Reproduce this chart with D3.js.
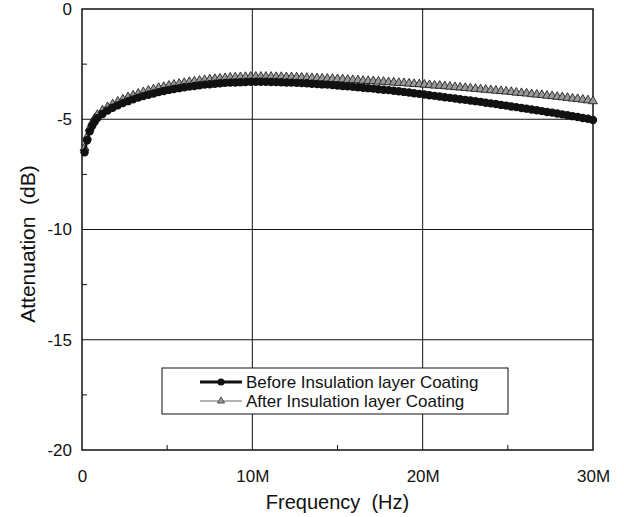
<!DOCTYPE html>
<html>
<head>
<meta charset="utf-8">
<script src="https://cdn.jsdelivr.net/npm/d3@7"></script>
<style>
  body { margin: 0; background: #fff; }
  text { font-family: "Liberation Sans", Arial, sans-serif; fill: #111; white-space: pre; }
</style>
</head>
<body>
<script>
// attributes of the canvas area
var margin = {top: 9, right: 31, bottom: 67, left: 82},
    width = 624 - margin.left - margin.right,
    height = 517 - margin.top - margin.bottom;

// frequency in MHz
let freq = [0.15, 0.3, 0.45, 0.6, 0.75, 0.9, 1.2, 1.5, 1.8, 2.1, 2.4, 2.7, 3.0, 3.3, 3.6, 3.9,
  4.2, 4.5, 4.8, 5.1, 5.4, 5.7, 6.0, 6.3, 6.6, 6.9, 7.2, 7.5, 7.8, 8.1, 8.4, 8.7, 9.0, 9.3, 9.6, 9.9,
  10.2, 10.5, 10.8, 11.1, 11.4, 11.7, 12.0, 12.3, 12.6, 12.9, 13.2, 13.5, 13.8, 14.1, 14.4, 14.7,
  15.0, 15.3, 15.6, 15.9, 16.2, 16.5, 16.8, 17.1, 17.4, 17.7, 18.0, 18.3, 18.6, 18.9, 19.2, 19.5,
  19.8, 20.1, 20.4, 20.7, 21.0, 21.3, 21.6, 21.9, 22.2, 22.5, 22.8, 23.1, 23.4, 23.7, 24.0, 24.3,
  24.6, 24.9, 25.2, 25.5, 25.8, 26.1, 26.4, 26.7, 27.0, 27.3, 27.6, 27.9, 28.2, 28.5, 28.8, 29.1,
  29.4, 29.7, 30.0];

// attenuation before coating (dB)
let before = [-6.5, -5.95, -5.55, -5.3, -5.1, -4.95, -4.76, -4.61, -4.48, -4.37, -4.27, -4.18, -4.10, -4.02, -3.95, -3.89,
  -3.83, -3.77, -3.72, -3.67, -3.63, -3.59, -3.55, -3.52, -3.49, -3.46, -3.43, -3.41, -3.39, -3.37, -3.35, -3.34, -3.33, -3.32, -3.31, -3.30,
  -3.30, -3.30, -3.30, -3.31, -3.31, -3.32, -3.33, -3.34, -3.35, -3.36, -3.37, -3.39, -3.40, -3.42, -3.43, -3.45,
  -3.47, -3.49, -3.51, -3.53, -3.55, -3.57, -3.59, -3.61, -3.64, -3.66, -3.68, -3.71, -3.73, -3.76, -3.79, -3.82,
  -3.85, -3.88, -3.91, -3.94, -3.97, -4.00, -4.03, -4.06, -4.09, -4.12, -4.15, -4.18, -4.21, -4.25, -4.28, -4.31,
  -4.35, -4.38, -4.42, -4.45, -4.49, -4.52, -4.56, -4.59, -4.63, -4.67, -4.70, -4.74, -4.78, -4.82, -4.86, -4.90,
  -4.94, -4.98, -5.03];

// attenuation after coating (dB)
let after = [-6.3, -5.8, -5.4, -5.15, -4.95, -4.8, -4.6, -4.45, -4.32, -4.2, -4.1, -4.0, -3.92, -3.84, -3.77, -3.70,
  -3.64, -3.58, -3.53, -3.48, -3.43, -3.39, -3.35, -3.31, -3.28, -3.25, -3.22, -3.19, -3.17, -3.15, -3.13, -3.11, -3.10, -3.09, -3.08, -3.07,
  -3.07, -3.07, -3.07, -3.07, -3.08, -3.08, -3.09, -3.09, -3.10, -3.11, -3.12, -3.13, -3.14, -3.15, -3.16, -3.17,
  -3.18, -3.19, -3.21, -3.22, -3.23, -3.25, -3.26, -3.27, -3.29, -3.30, -3.32, -3.33, -3.35, -3.36, -3.38, -3.40,
  -3.41, -3.43, -3.45, -3.47, -3.48, -3.50, -3.52, -3.54, -3.56, -3.58, -3.60, -3.62, -3.64, -3.66, -3.68, -3.70,
  -3.72, -3.74, -3.76, -3.79, -3.81, -3.83, -3.86, -3.88, -3.90, -3.93, -3.95, -3.98, -4.00, -4.03, -4.06, -4.08,
  -4.11, -4.14, -4.18];

let xTicks = [0, 10, 20, 30];
let xMinor = [5, 15, 25];
let yTicks = [0, -5, -10, -15, -20];
let yMinor = [-2.5, -7.5, -12.5, -17.5];
let seriesNames = ["Before Insulation layer Coating", "After Insulation layer Coating"];

var svg = d3.select("body").append("svg")
    .attr("width", width + margin.left + margin.right)
    .attr("height", height + margin.top + margin.bottom);

var g = svg.append("g")
    .attr("transform", "translate(" + margin.left + "," + margin.top + ")");

var x = d3.scaleLinear().domain([0, 30]).range([0, width]);
var y = d3.scaleLinear().domain([-20, 0]).range([height, 0]);

// grid lines
g.selectAll(".vgrid")
    .data(xTicks.slice(1, -1))
  .enter().append("line")
    .attr("x1", d => x(d)).attr("x2", d => x(d))
    .attr("y1", 0).attr("y2", height)
    .style("stroke", "#111").style("stroke-width", 1);
g.selectAll(".hgrid")
    .data(yTicks.slice(1, -1))
  .enter().append("line")
    .attr("x1", 0).attr("x2", width)
    .attr("y1", d => y(d)).attr("y2", d => y(d))
    .style("stroke", "#111").style("stroke-width", 1);

// axes
var xAxis = d3.axisBottom(x).tickValues(xTicks).tickSize(0).tickPadding(20)
    .tickFormat(d => d === 0 ? "0" : d + "M");
var yAxis = d3.axisLeft(y).tickValues(yTicks).tickSize(0).tickPadding(10)
    .tickFormat(d => d === 0 ? "0" : d);

g.append("g")
    .attr("transform", "translate(0," + height + ")")
    .call(xAxis)
    .call(a => a.select(".domain").remove())
    .selectAll("text").style("font-size", "17px").style("font-family", "Liberation Sans, Arial");
g.append("g")
    .call(yAxis)
    .call(a => a.select(".domain").remove())
    .selectAll("text").style("font-size", "17px").style("font-family", "Liberation Sans, Arial");

// minor inward ticks
g.selectAll(".xminor")
    .data(xMinor)
  .enter().append("line")
    .attr("x1", d => x(d)).attr("x2", d => x(d))
    .attr("y1", height).attr("y2", height - 5)
    .style("stroke", "#111");
g.selectAll(".yminor")
    .data(yMinor)
  .enter().append("line")
    .attr("x1", 0).attr("x2", 5)
    .attr("y1", d => y(d)).attr("y2", d => y(d))
    .style("stroke", "#111");

// frame
g.append("rect")
    .attr("width", width).attr("height", height)
    .style("fill", "none").style("stroke", "#111").style("stroke-width", 1.5);

// axis titles
svg.append("text")
    .attr("x", margin.left + width / 2)
    .attr("y", 509)
    .style("text-anchor", "middle")
    .style("font-size", "20px")
    .text("Frequency  (Hz)");
svg.append("text")
    .attr("transform", "translate(35,244) rotate(-90)")
    .style("text-anchor", "middle")
    .style("font-size", "21px")
    .text("Attenuation  (dB)");

var dataBefore = freq.map((f, i) => ({f: f, v: before[i]}));
var dataAfter = freq.map((f, i) => ({f: f, v: after[i]}));

var line = d3.line().x(d => x(d.f)).y(d => y(d.v));
var tri = d3.symbol().type(d3.symbolTriangle).size(34);
var triSmall = d3.symbol().type(d3.symbolTriangle).size(22);

// after coating (gray triangles)
g.append("path")
    .datum(dataAfter)
    .attr("d", line)
    .style("fill", "none").style("stroke", "#666").style("stroke-width", 1);
g.selectAll(".after")
    .data(dataAfter)
  .enter().append("path")
    .attr("transform", d => "translate(" + x(d.f) + "," + y(d.v) + ")")
    .attr("d", tri)
    .style("fill", "#999").style("stroke", "#222").style("stroke-width", 0.9);

// before coating (black circles)
g.append("path")
    .datum(dataBefore)
    .attr("d", line)
    .style("fill", "none").style("stroke", "#111").style("stroke-width", 2.5);
g.selectAll(".before")
    .data(dataBefore)
  .enter().append("circle")
    .attr("cx", d => x(d.f)).attr("cy", d => y(d.v))
    .attr("r", 4.2)
    .style("fill", "#111");

// legend
var lg = svg.append("g").attr("transform", "translate(162,368)");
lg.append("rect")
    .attr("width", 346).attr("height", 46)
    .style("fill", "#fff").style("stroke", "#111").style("stroke-width", 1);
// row 1
lg.append("line").attr("x1", 38).attr("x2", 80).attr("y1", 14).attr("y2", 14)
    .style("stroke", "#111").style("stroke-width", 3);
lg.append("circle").attr("cx", 59).attr("cy", 14).attr("r", 3.6).style("fill", "#111");
lg.append("text").attr("x", 84).attr("y", 20).style("font-size", "17px").text(seriesNames[0]);
// row 2
lg.append("line").attr("x1", 38).attr("x2", 80).attr("y1", 33).attr("y2", 33)
    .style("stroke", "#666").style("stroke-width", 1);
lg.append("path").attr("transform", "translate(59,33)").attr("d", triSmall)
    .style("fill", "#999").style("stroke", "#333").style("stroke-width", 0.8);
lg.append("text").attr("x", 84).attr("y", 39).style("font-size", "17px").text(seriesNames[1]);
</script>
</body>
</html>
